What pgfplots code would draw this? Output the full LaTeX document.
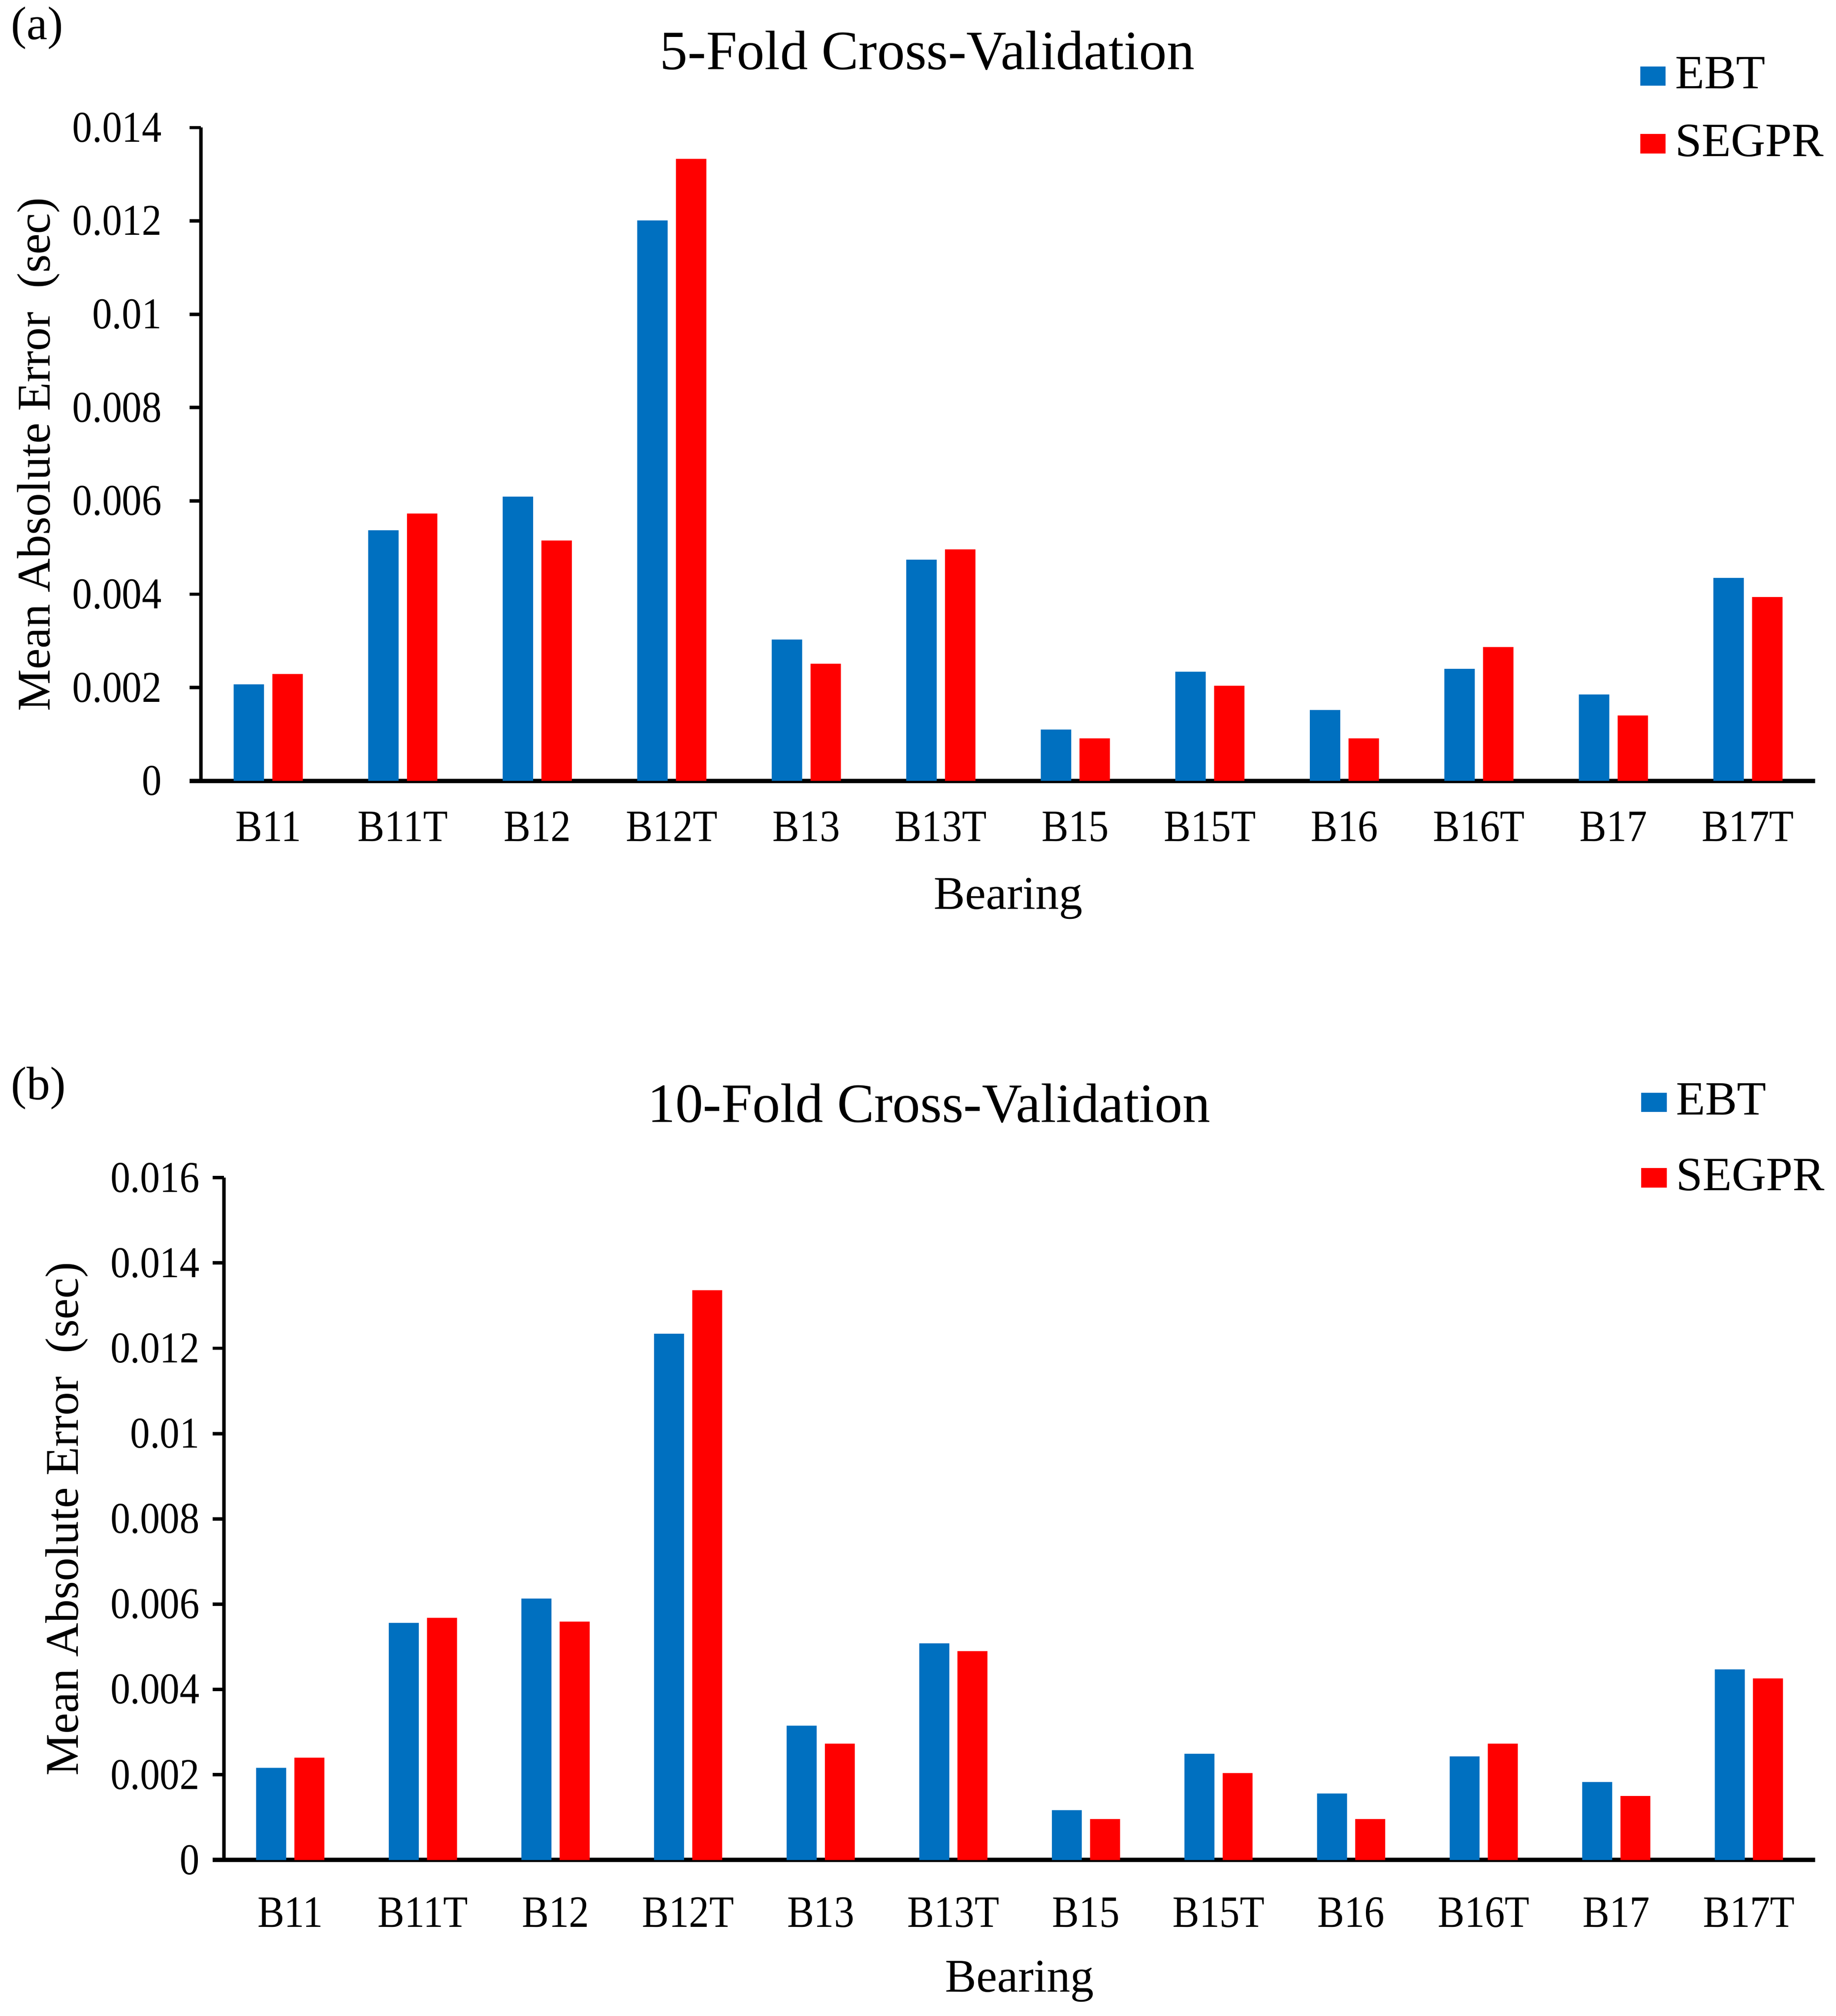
\documentclass[border=0pt]{standalone}
\usepackage{fontspec}
\setmainfont{Liberation Serif}
\newfontfamily\tickfont{Liberation Serif}[FakeStretch=0.9]
\usepackage{pgfplots}
\pgfplotsset{compat=1.18}
\definecolor{ebtblue}{RGB}{0,112,192}
\definecolor{segred}{RGB}{255,0,0}

\pgfplotstableread{
idx EBT SEGPR
0  0.00207 0.00229
1  0.00537 0.00573
2  0.00609 0.00515
3  0.01201 0.01333
4  0.00303 0.00251
5  0.00474 0.00496
6  0.00110 0.00091
7  0.00234 0.00204
8  0.00152 0.00091
9  0.00240 0.00287
10 0.00185 0.00140
11 0.00435 0.00394
}\fivefold

\pgfplotstableread{
idx EBT SEGPR
0  0.00216 0.00240
1  0.00556 0.00568
2  0.00613 0.00559
3  0.01234 0.01336
4  0.00315 0.00273
5  0.00508 0.00490
6  0.00117 0.00096
7  0.00249 0.00204
8  0.00156 0.00096
9  0.00243 0.00273
10 0.00183 0.00150
11 0.00447 0.00426
}\tenfold

\pgfplotsset{
  mae/.style={
    scale only axis,
    ybar,
    ymin=0,
    xmin=-0.5, xmax=11.5,
    xtick={0,...,11},
    xticklabels={B11,B11T,B12,B12T,B13,B13T,B15,B15T,B16,B16T,B17,B17T},
    axis x line*=bottom,
    axis y line*=left,
    x axis line style={line width=1pt, shorten <=-2.7pt},
    y axis line style={line width=0.8pt},
    xtick style={draw=none},
    ytick style={line width=0.8pt, black},
    tick align=outside,
    major tick length=2.7pt,
    scaled y ticks=false,
    yticklabel style={/pgf/number format/fixed, /pgf/number format/precision=3,
      /pgf/number format/assume math mode=true, font=\tickfont\fontsize{10.3pt}{12pt}\selectfont},
    xticklabel style={font=\tickfont\fontsize{10.5pt}{12pt}\selectfont},
    xlabel={Bearing},
    ylabel={Mean Absolute Error\ \ (sec)},
    label style={font=\fontsize{11pt}{13pt}\selectfont},
    every axis title shift=0pt,
    title style={font=\fontsize{13pt}{15pt}\selectfont, anchor=center},
    bar width=0.226,
    legend cell align=left,
    legend style={draw=none, fill=none, anchor=west, inner sep=0pt,
      font=\fontsize{11.2pt}{13pt}\selectfont,
      nodes={inner sep=1pt},
      /tikz/every odd column/.append style={column sep=1.2pt}},
    legend image code/.code={\fill[#1] (0pt,-2.25pt) rectangle (6pt,2.25pt);},
  }
}

\begin{document}
\begin{tikzpicture}
\path (0pt,0pt) rectangle (430.2pt,-471.2pt);
\node[font=\fontsize{11pt}{13pt}\selectfont, anchor=west, inner sep=0pt] at (2.4pt,-6.6pt) {(a)};
\node[font=\fontsize{11pt}{13pt}\selectfont, anchor=west, inner sep=0pt] at (2.4pt,-255pt) {(b)};

\begin{axis}[mae,
  at={(47.1pt,-183pt)}, anchor=south west,
  width=378.3pt, height=153.1pt,
  ymax=0.014,
  ytick={0,0.002,0.004,0.006,0.008,0.01,0.012,0.014},
  yticklabel style={xshift=-3pt},
  xticklabel style={yshift=-1pt},
  title={5-Fold Cross-Validation},
  title style={at={(rel axis cs:0.45,1.118)}},
  xlabel style={at={(axis description cs:0.5,0)}, anchor=center, yshift=-27.6pt},
  ylabel style={at={(axis description cs:0,0.5)}, anchor=center, yshift=38.1pt},
  legend style={at={(rel axis cs:0.891,1.027)}, row sep=5pt},
]
\addplot[fill=ebtblue, draw=none, bar shift=-0.144] table[x=idx, y=EBT] {\fivefold};
\addplot[fill=segred, draw=none, bar shift=0.144] table[x=idx, y=SEGPR] {\fivefold};
\legend{EBT, SEGPR}
\end{axis}

\begin{axis}[mae,
  at={(52.5pt,-435.9pt)}, anchor=south west,
  width=372.9pt, height=159.9pt,
  ymax=0.016,
  ytick={0,0.002,0.004,0.006,0.008,0.01,0.012,0.014,0.016},
  yticklabel style={xshift=0.5pt},
  xticklabel style={yshift=-2.5pt},
  title={10-Fold Cross-Validation},
  title style={at={(rel axis cs:0.443,1.109)}},
  xlabel style={at={(axis description cs:0.5,0)}, anchor=center, yshift=-28.4pt},
  ylabel style={at={(axis description cs:0,0.5)}, anchor=center, yshift=36.9pt},
  legend style={at={(rel axis cs:0.89,1.055)}, row sep=6.8pt},
]
\addplot[fill=ebtblue, draw=none, bar shift=-0.144] table[x=idx, y=EBT] {\tenfold};
\addplot[fill=segred, draw=none, bar shift=0.144] table[x=idx, y=SEGPR] {\tenfold};
\legend{EBT, SEGPR}
\end{axis}
\end{tikzpicture}
\end{document}
